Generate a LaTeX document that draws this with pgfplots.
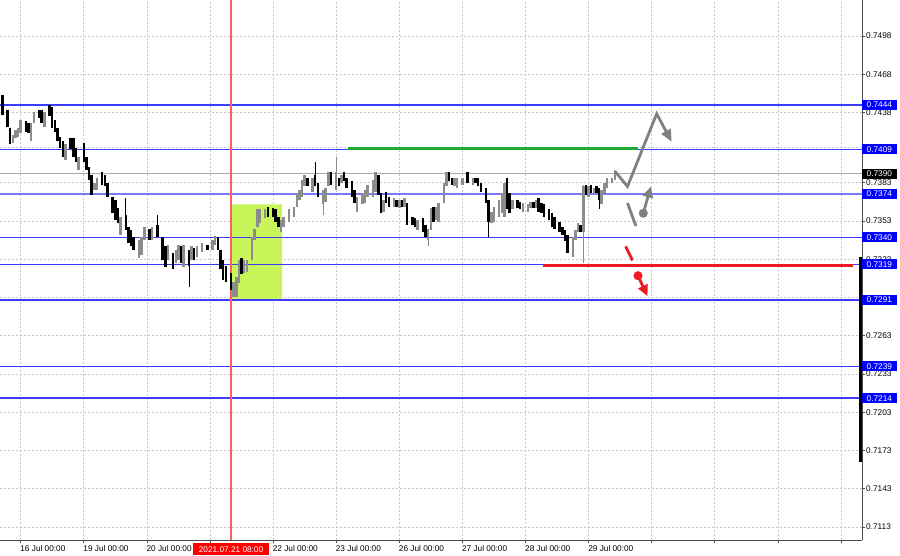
\documentclass[border=0pt]{standalone}
\usepackage{pgfplots}
\usepackage{pgfplotstable}
\pgfplotsset{compat=1.18}
\usepackage{fontspec}
\setmainfont{Liberation Sans}
\usetikzlibrary{arrows.meta}

\definecolor{mtblue}{RGB}{0,0,255}
\definecolor{mtline}{RGB}{60,60,255}
\definecolor{mtlight}{RGB}{120,120,255}
\definecolor{mtgrid}{RGB}{200,200,200}
\definecolor{mtbull}{RGB}{140,140,140}
\definecolor{mtgreen}{RGB}{30,170,50}
\definecolor{mtred}{RGB}{237,28,36}
\definecolor{sepred}{RGB}{255,95,95}
\definecolor{zone}{RGB}{200,245,90}
\definecolor{proj}{RGB}{128,128,128}

% x = trading hours from 16 Jul 00:00; rising candles
\pgfplotstableread{
x o h l c
-3 .7414 .7420 .7414 .7420
-2 .7418 .7424 .7418 .7424
-1 .7419 .7426 .7419 .7426
0 .7422 .7432 .7422 .7432
4 .7416 .7430 .7416 .7430
5 .7430 .7438 .7430 .7438
9 .7427 .7438 .7427 .7438
17 .7401 .7413 .7401 .7413
22 .7393 .7403 .7393 .7403
28 .7377 .7383 .7377 .7383
29 .7377 .7387 .7377 .7387
38 .7342 .7356 .7342 .7356
45 .7324 .7338 .7324 .7338
46 .7326 .7340 .7326 .7340
47 .7338 .7348 .7338 .7348
50 .7338 .7348 .7338 .7348
56 .7322 .7334 .7322 .7334
59 .7320 .7330 .7320 .7330
60 .7322 .7334 .7322 .7334
62 .7317 .7334 .7317 .7334
65 .7322 .7333 .7322 .7333
67 .7325 .7333 .7325 .7333
69 .7329 .7336 .7329 .7336
73 .7330 .7338 .7330 .7338
74 .7334 .7341 .7334 .7341
81 .7293 .7305 .7293 .7305
82 .7293 .7309 .7293 .7309
83 .7304 .7322 .7304 .7322
85 .7312 .7322 .7312 .7322
86 .7313 .7322 .7313 .7322
88 .7322 .7340 .7322 .7340
89 .7338 .7347 .7338 .7347
90 .7348 .7362 .7348 .7362
91 .7351 .7362 .7351 .7362
93 .7355 .7362 .7355 .7362
99 .7344 .7354 .7344 .7354
100 .7348 .7356 .7348 .7356
102 .7352 .7362 .7352 .7362
104 .7356 .7364 .7356 .7364
105 .7364 .7375 .7364 .7375
106 .7369 .7377 .7369 .7377
107 .7372 .7385 .7372 .7385
108 .7380 .7389 .7380 .7389
111 .7376 .7387 .7376 .7387
115 .7366 .7377 .7358 .7377
116 .7368 .7379 .7368 .7379
117 .7380 .7391 .7380 .7391
120 .7377 .7403 .7377 .7391
122 .7383 .7389 .7383 .7389
128 .7360 .7372 .7360 .7372
130 .7366 .7375 .7366 .7375
131 .7367 .7377 .7367 .7377
132 .7372 .7381 .7372 .7381
134 .7372 .7385 .7372 .7385
135 .7376 .7391 .7376 .7391
138 .7360 .7369 .7360 .7369
142 .7364 .7371 .7364 .7371
144 .7363 .7369 .7363 .7369
146 .7364 .7371 .7364 .7371
151 .7346 .7354 .7346 .7354
155 .7338 .7347 .7333 .7347
156 .7346 .7363 .7346 .7363
158 .7354 .7364 .7354 .7364
159 .7352 .7367 .7352 .7367
161 .7367 .7383 .7367 .7383
162 .7380 .7391 .7380 .7391
165 .7380 .7387 .7380 .7387
166 .7379 .7387 .7379 .7387
168 .7381 .7387 .7381 .7387
172 .7381 .7387 .7381 .7387
179 .7351 .7360 .7351 .7360
180 .7352 .7364 .7352 .7364
182 .7356 .7369 .7356 .7369
183 .7359 .7375 .7359 .7375
184 .7356 .7383 .7356 .7383
187 .7362 .7369 .7362 .7369
191 .7360 .7367 .7360 .7367
193 .7360 .7366 .7360 .7366
194 .7363 .7368 .7363 .7368
196 .7363 .7369 .7363 .7369
210 .7325 .7340 .7325 .7340
211 .7338 .7346 .7338 .7346
212 .7344 .7351 .7344 .7351
214 .7344 .7381 .7320 .7380
216 .7372 .7380 .7372 .7380
218 .7373 .7379 .7373 .7379
221 .7366 .7377 .7366 .7377
222 .7375 .7383 .7375 .7383
223 .7379 .7387 .7379 .7387
225 .7383 .7387 .7383 .7387
226 .7385 .7393 .7385 .7390
}\bull

% falling candles
\pgfplotstableread{
x o h l c
-7 .7452 .7452 .7436 .7436
-5 .7440 .7440 .7427 .7427
-4 .7426 .7426 .7413 .7413
2 .7431 .7431 .7423 .7423
3 .7430 .7430 .7422 .7422
7 .7440 .7440 .7434 .7434
8 .7440 .7440 .7430 .7430
11 .7444 .7444 .7435 .7435
12 .7442 .7442 .7426 .7426
13 .7432 .7432 .7423 .7423
14 .7426 .7426 .7416 .7416
15 .7419 .7419 .7410 .7410
16 .7416 .7416 .7403 .7403
19 .7418 .7418 .7409 .7409
20 .7418 .7418 .7403 .7403
21 .7410 .7410 .7399 .7399
24 .7414 .7414 .7399 .7399
25 .7403 .7403 .7393 .7393
26 .7395 .7395 .7385 .7385
27 .7389 .7389 .7373 .7373
31 .7391 .7391 .7381 .7381
32 .7389 .7389 .7380 .7380
33 .7383 .7383 .7372 .7372
35 .7372 .7372 .7359 .7359
36 .7369 .7369 .7354 .7354
37 .7363 .7363 .7351 .7351
40 .7358 .7371 .7346 .7346
41 .7348 .7348 .7336 .7336
42 .7346 .7346 .7333 .7333
43 .7340 .7340 .7330 .7330
49 .7347 .7347 .7338 .7338
52 .7350 .7358 .7340 .7340
54 .7340 .7340 .7322 .7322
55 .7333 .7333 .7317 .7317
58 .7328 .7328 .7315 .7315
61 .7333 .7333 .7320 .7320
64 .7330 .7330 .7301 .7318
66 .7332 .7332 .7322 .7322
71 .7334 .7334 .7330 .7330
75 .7340 .7340 .7330 .7330
76 .7330 .7330 .7315 .7315
77 .7322 .7322 .7307 .7307
78 .7318 .7318 .7305 .7305
80 .7312 .7312 .7299 .7299
84 .7324 .7324 .7311 .7311
94 .7364 .7364 .7356 .7356
96 .7363 .7363 .7356 .7356
97 .7362 .7362 .7352 .7352
98 .7356 .7356 .7348 .7348
109 .7387 .7387 .7380 .7380
112 .7389 .7399 .7380 .7380
113 .7383 .7383 .7372 .7372
118 .7391 .7391 .7381 .7381
121 .7387 .7387 .7380 .7380
123 .7391 .7391 .7384 .7384
124 .7387 .7387 .7379 .7379
126 .7384 .7384 .7372 .7372
127 .7377 .7377 .7367 .7367
136 .7389 .7389 .7373 .7373
137 .7375 .7375 .7359 .7359
139 .7376 .7376 .7367 .7367
140 .7372 .7372 .7364 .7364
143 .7369 .7369 .7364 .7364
145 .7369 .7369 .7364 .7364
147 .7367 .7367 .7350 .7350
149 .7356 .7356 .7350 .7350
150 .7355 .7355 .7348 .7348
153 .7355 .7355 .7344 .7344
154 .7350 .7350 .7340 .7340
157 .7364 .7364 .7352 .7352
163 .7391 .7391 .7384 .7384
164 .7387 .7387 .7381 .7381
170 .7391 .7391 .7383 .7383
173 .7387 .7387 .7383 .7383
174 .7387 .7387 .7380 .7380
175 .7383 .7383 .7376 .7376
177 .7379 .7379 .7367 .7367
178 .7369 .7369 .7340 .7352
185 .7387 .7387 .7362 .7362
186 .7375 .7375 .7359 .7359
189 .7369 .7369 .7363 .7363
190 .7368 .7368 .7362 .7362
195 .7368 .7368 .7363 .7363
197 .7371 .7371 .7360 .7360
198 .7367 .7367 .7359 .7359
199 .7366 .7366 .7356 .7356
201 .7362 .7362 .7354 .7354
202 .7359 .7359 .7348 .7348
203 .7356 .7356 .7347 .7347
205 .7352 .7352 .7344 .7344
206 .7348 .7348 .7342 .7342
207 .7346 .7346 .7337 .7337
208 .7342 .7342 .7328 .7328
213 .7350 .7350 .7344 .7344
215 .7381 .7381 .7373 .7373
217 .7381 .7381 .7375 .7375
219 .7380 .7380 .7375 .7375
220 .7379 .7379 .7362 .7369
}\bear

\begin{document}
\begin{tikzpicture}[font=\fontsize{8.3}{9}\selectfont]
\begin{axis}[
    set layers,
    at={(0,0)}, anchor=south west,
    width=862bp, height=540bp, scale only axis,
    xmin=-7.87, xmax=320, ymin=0.71028, ymax=0.75262,
    axis x line*=bottom, axis y line*=right,
    axis line style={-, draw=black!70, line width=0.8bp},
    clip=false,
    xtick={0,24,...,312},
    xticklabels={16 Jul 00:00,19 Jul 00:00,20 Jul 00:00,{},22 Jul 00:00,23 Jul 00:00,26 Jul 00:00,27 Jul 00:00,28 Jul 00:00,29 Jul 00:00,{},{},{},{}},
    xticklabel style={anchor=north west, inner sep=0pt, yshift=-2bp, xshift=-0.5bp},
    ytick={0.7113,0.7143,0.7173,0.7203,0.7233,0.7263,0.7293,0.7323,0.7353,0.7383,0.7411,0.7438,0.7468,0.7498},
    yticklabels={0.7113,0.7143,0.7173,0.7203,0.7233,0.7263,{},0.7323,0.7353,0.7383,{},0.7438,0.7468,0.7498},
    yticklabel style={anchor=west, inner sep=0pt, xshift=1bp},
    tick align=outside, major tick length=3bp,
    tick style={draw=black!70, line width=0.6bp},
    grid=major,
    major grid style={draw=mtgrid, line width=0.6bp, dash pattern=on 2bp off 2bp},
    candle/.style={draw=none, mark=none, forget plot,
      error bars/y dir=plus, error bars/y explicit, error bars/error mark=none},
]
% highlighted zone
\addplot[fill=zone, draw=none] coordinates {(80.4,0.7291)(99.4,0.7291)(99.4,0.7366)(80.4,0.7366)(80.4,0.7291)};
% horizontal levels
\pgfplotsinvokeforeach{0.7444,0.7409,0.7340,0.7319,0.7291,0.7239,0.7214}{
  \addplot[draw=mtline, line width=1.4bp] coordinates {(-7.87,#1)(320,#1)};
}
\addplot[draw=mtlight, line width=1.8bp] coordinates {(-7.87,0.7374)(320,0.7374)};
\addplot[draw=mtgrid!85!black, line width=1.2bp] coordinates {(-7.87,0.7390)(320,0.7390)};
% period separator
\addplot[draw=sepred, line width=1.3bp] coordinates {(80,0.71028)(80,0.75262)};

% candles: wicks then bodies
\addplot[candle, error bars/error bar style={draw=mtbull, line width=0.8bp}]
  table[x=x, y=l, y error plus expr=\thisrow{h}-\thisrow{l}] {\bull};
\addplot[candle, error bars/error bar style={draw=mtbull, line width=2.5bp}]
  table[x=x, y=o, y error plus expr=\thisrow{c}-\thisrow{o}] {\bull};
\addplot[candle, error bars/error bar style={draw=black, line width=0.8bp}]
  table[x=x, y=l, y error plus expr=\thisrow{h}-\thisrow{l}] {\bear};
\addplot[candle, error bars/error bar style={draw=black, line width=2.5bp}]
  table[x=x, y=c, y error plus expr=\thisrow{o}-\thisrow{c}] {\bear};

% resistance / support marks
\addplot[draw=mtgreen, line width=3bp] coordinates {(124.6,0.7410)(234.9,0.7410)};
\addplot[draw=mtred, line width=3.3bp] coordinates {(198.7,0.7318)(316.5,0.7318)};
\addplot[draw=black, line width=2.5bp] coordinates {(319.4,0.7325)(319.4,0.7164)};

% projected paths
\addplot[draw=proj, line width=2.8bp, -{Triangle[length=12bp,width=10bp]}] coordinates {(226.0,0.7392)(230.8,0.7380)(241.9,0.7437)(247.6,0.7415)};
\addplot[draw=proj, line width=2.8bp] coordinates {(230.8,0.7367)(234.0,0.7349)};
\addplot[draw=proj, line width=2.8bp, -{Triangle[length=11bp,width=10bp]}] coordinates {(236.8,0.7359)(239.7,0.7380)};
\addplot[proj, only marks, mark=*, mark size=4.3bp] coordinates {(236.8,0.7359)};
\addplot[draw=mtred, line width=2.8bp] coordinates {(230.1,0.7333)(232.7,0.7322)};
\addplot[draw=mtred, line width=2.8bp, -{Triangle[length=11bp,width=10bp]}] coordinates {(234.8,0.7310)(238.4,0.7294)};
\addplot[mtred, only marks, mark=*, mark size=4.3bp] coordinates {(234.8,0.7310)};

% price boxes on the scale
\begin{scope}[every node/.style={anchor=west, text=white, inner xsep=4.5bp, inner ysep=0pt, minimum height=10bp}]
\node[fill=mtblue] at (axis cs:320,0.7444) {0.7444};
\node[fill=mtblue] at (axis cs:320,0.7409) {0.7409};
\node[fill=black] at (axis cs:320,0.7390) {0.7390};
\node[fill=mtblue] at (axis cs:320,0.7374) {0.7374};
\node[fill=mtblue] at (axis cs:320,0.7340) {0.7340};
\node[fill=mtblue] at (axis cs:320,0.7319) {0.7319};
\node[fill=mtblue] at (axis cs:320,0.7291) {0.7291};
\node[fill=mtblue] at (axis cs:320,0.7239) {0.7239};
\node[fill=mtblue] at (axis cs:320,0.7214) {0.7214};
\end{scope}
\node[fill=red, text=white, anchor=north, inner xsep=6bp, inner ysep=0pt, minimum height=12bp, yshift=-3bp] at (axis cs:80,0.71028) {2021.07.21 08:00};
\end{axis}
\pgfresetboundingbox
\useasboundingbox (0,-16bp) rectangle (900bp,540bp);
\end{tikzpicture}
\end{document}
